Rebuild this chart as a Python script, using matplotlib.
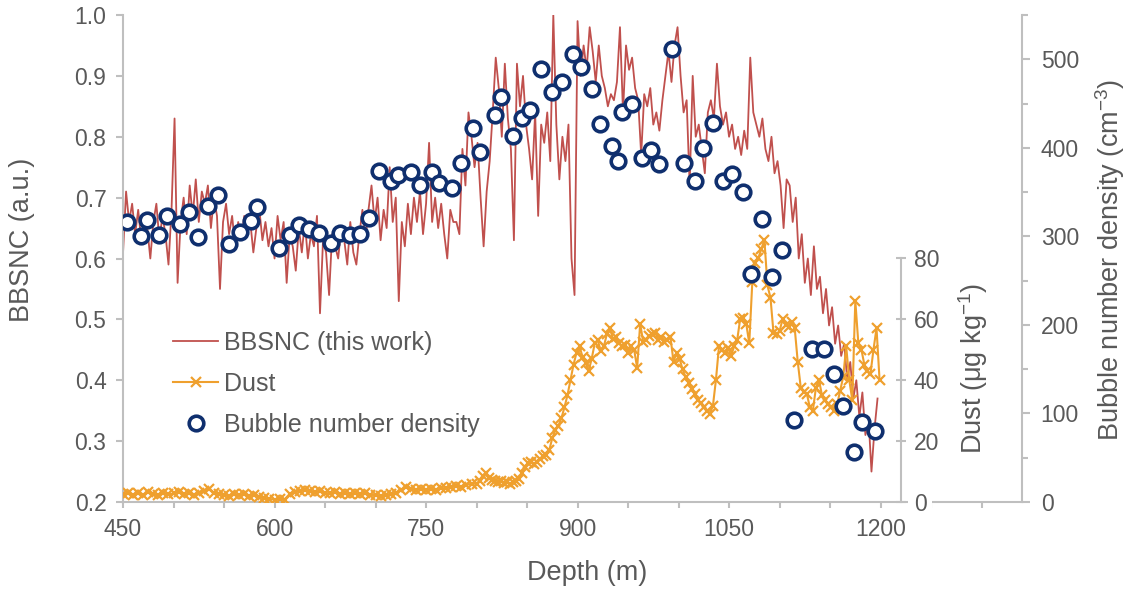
import matplotlib
matplotlib.use("Agg")
import matplotlib.pyplot as plt
import numpy as np
from matplotlib.ticker import MultipleLocator, FormatStrFormatter

plt.rcParams["font.family"] = ["Liberation Sans", "DejaVu Sans"]
plt.rcParams["mathtext.fontset"] = "custom"
plt.rcParams["mathtext.rm"] = "Liberation Sans"
plt.rcParams["mathtext.it"] = "Liberation Sans:italic"

bbsnc_depth = np.arange(450, 1200, 3)
bbsnc = [
    0.61, 0.71, 0.66, 0.69, 0.64, 0.68, 0.63, 0.67, 0.65, 0.60,
    0.66, 0.69, 0.63, 0.67, 0.64, 0.59, 0.68, 0.83, 0.56, 0.66,
    0.70, 0.64, 0.72, 0.67, 0.73, 0.66, 0.71, 0.69, 0.72, 0.65,
    0.70, 0.67, 0.55, 0.66, 0.69, 0.64, 0.67, 0.62, 0.66, 0.63,
    0.67, 0.64, 0.66, 0.61, 0.65, 0.68, 0.63, 0.66, 0.62, 0.65,
    0.60, 0.67, 0.63, 0.66, 0.56, 0.64, 0.62, 0.58, 0.65, 0.61,
    0.66, 0.60, 0.64, 0.62, 0.67, 0.51, 0.63, 0.61, 0.54, 0.64,
    0.62, 0.60, 0.65, 0.63, 0.59, 0.66, 0.61, 0.59, 0.64, 0.68,
    0.63, 0.68, 0.72, 0.66, 0.70, 0.63, 0.68, 0.65, 0.75, 0.66,
    0.70, 0.53, 0.66, 0.62, 0.69, 0.64, 0.70, 0.66, 0.71, 0.64,
    0.69, 0.79, 0.66, 0.70, 0.65, 0.69, 0.64, 0.60, 0.68, 0.66,
    0.66, 0.64, 0.78, 0.72, 0.84, 0.80, 0.75, 0.79, 0.70, 0.62,
    0.71, 0.76, 0.84, 0.93, 0.88, 0.80, 0.92, 0.83, 0.78, 0.63,
    0.92, 0.85, 0.90, 0.82, 0.78, 0.73, 0.84, 0.67, 0.82, 0.79,
    0.84, 0.76, 1.00, 0.82, 0.73, 0.80, 0.76, 0.82, 0.60, 0.54,
    0.99, 0.90, 0.95, 0.91, 0.98, 0.94, 0.89, 0.95, 0.90, 0.88,
    0.85, 0.87, 0.86, 0.89, 0.98, 0.84, 0.95, 0.91, 0.93, 0.88,
    0.86, 0.77, 0.87, 0.85, 0.88, 0.82, 0.84, 0.81, 0.86, 0.90,
    0.94, 0.89, 0.95, 0.98, 0.90, 0.84, 0.86, 0.72, 0.90, 0.80,
    0.82, 0.78, 0.74, 0.84, 0.86, 0.83, 0.92, 0.85, 0.82, 0.84,
    0.80, 0.82, 0.78, 0.80, 0.77, 0.81, 0.78, 0.93, 0.84, 0.82,
    0.80, 0.83, 0.78, 0.76, 0.80, 0.74, 0.76, 0.72, 0.65, 0.73,
    0.72, 0.66, 0.70, 0.60, 0.64, 0.56, 0.60, 0.54, 0.62, 0.55,
    0.57, 0.51, 0.55, 0.49, 0.52, 0.46, 0.49, 0.44, 0.46, 0.40,
    0.43, 0.37, 0.40, 0.34, 0.38, 0.31, 0.34, 0.25, 0.32, 0.37,
]

# Dust (ug/kg): every 5 m down to 795 m, then every 3 m
dust_depth = np.concatenate([np.arange(450, 800, 5), np.arange(800, 1200, 3)])
dust = [
    2.5, 3.0, 2.2, 2.8, 2.4, 3.2, 2.6, 2.2, 3.0, 2.5, 2.8, 3.4, 2.6, 2.9,
    2.4, 3.0, 3.5, 4.2, 3.0, 2.6, 2.4, 2.0, 2.5, 2.2, 2.6, 2.0, 2.4, 1.8,
    1.2, 1.0, 0.8, 1.1, 0.8, 2.6, 3.4,
    3.6, 4.0, 3.5, 3.2, 3.6, 3.0, 2.8, 3.2, 2.6, 3.0, 2.5, 2.8, 2.6, 3.0, 2.4, 2.2,
    2.0, 2.2, 2.5, 3.0, 3.8, 4.8, 4.2, 4.0, 4.4, 4.0, 4.2, 3.8, 4.5, 4.6,
    5.0, 5.4, 4.8, 5.6, 6.0,
    6.0, 7.0, 8.5, 9.5, 8.0, 7.2, 6.8, 6.5, 6.8, 6.2,
    6.6, 6.0, 6.5, 6.8, 7.5, 9.5, 11.5, 12.8, 13.2, 12.5,
    13.0, 14.0, 15.0, 15.5, 17.0, 21.0, 23.5, 25.0, 27.5, 31.0,
    35.0, 40.0, 45.0, 49.0, 51.0, 47.5, 45.5, 43.0, 47.0, 52.0,
    53.0, 49.5, 51.0, 55.0, 57.0, 53.5, 54.0, 52.0, 51.0, 51.5,
    49.0, 51.0, 50.0, 44.0, 58.5, 52.5, 53.0, 54.5, 55.0, 55.5,
    53.0, 54.0, 52.5, 53.0, 54.0, 46.0, 49.0, 47.0, 43.5, 41.0,
    39.0, 37.0, 35.5, 33.5, 32.5, 31.0, 30.0, 29.0, 31.5, 40.0,
    51.0, 50.0, 49.0, 50.5, 48.0, 51.0, 53.0, 60.0, 60.5, 58.5,
    52.0, 72.0, 78.5, 80.0, 83.0, 86.0, 71.0, 67.0, 55.5, 55.0,
    56.0, 60.0, 58.0, 57.5, 59.0, 57.0, 46.0, 37.5, 36.0, 35.5,
    31.0, 30.0, 37.5, 40.0, 35.0, 33.5, 32.0, 31.0, 30.0, 32.0,
    36.5, 41.0, 51.0, 40.0, 33.5, 66.0, 52.0, 50.0, 45.0, 43.0,
    42.0, 50.0, 57.0, 40.0,
]

# Bubble number density (cm-3)
bubble_depth = [
    454, 468, 474, 486, 494, 506, 515, 524, 534, 544, 555, 566, 577, 583,
    604, 615, 624, 634, 644, 656, 665, 675, 685, 694, 703, 715, 722, 735,
    744, 756, 763, 776, 785, 796, 803, 818, 824, 836, 845, 853, 864, 875,
    885, 895, 903, 914, 922, 934, 940, 944, 954, 964, 973, 981, 994, 1005,
    1016, 1024, 1034, 1044, 1053, 1064, 1072, 1083, 1093, 1102, 1114, 1132,
    1144, 1154, 1163, 1174, 1182, 1194,
]
bubble_density = [
    316, 300, 318, 302, 323, 314, 327, 299, 334, 347, 291, 305, 317, 333,
    287, 302, 313, 308, 304, 292, 304, 302, 303, 321, 374, 362, 369, 373,
    358, 373, 360, 355, 383, 422, 395, 437, 457, 413, 434, 443, 489, 463,
    474, 506, 491, 466, 427, 402, 385, 441, 449, 388, 397, 382, 512, 383,
    362, 400, 428, 362, 370, 350, 257, 320, 254, 285, 93, 173,
    173, 144, 108, 56, 90, 80,
]

RED = "#C0504D"
ORANGE = "#EFA02E"
NAVY = "#0F2F6E"
TXT = "#595959"
SPINE = "#BFBFBF"
TICK_FS = 16.5
LABEL_FS = 19.5

fig = plt.figure(figsize=(11.33, 5.91), dpi=100)
ax = fig.add_axes([0.1086, 0.1506, 0.7934, 0.824])
ax.plot(bbsnc_depth, bbsnc, color=RED, lw=1.3, label="BBSNC (this work)")

ax_d = ax.twinx()
ax_d.plot(dust_depth, dust, color=ORANGE, lw=1.5, marker="x", ms=6.5, mew=1.6,
          label="Dust")

ax_b = ax.twinx()
ax_b.plot(bubble_depth, bubble_density, ls="none", marker="o", ms=10.5,
          mfc="white", mec=NAVY, mew=2.6, label="Bubble number density")

# main axes
ax.set_xlim(450, 1340)
ax.set_ylim(0.2, 1.0)
ax.xaxis.set_major_locator(MultipleLocator(150))
ax.xaxis.set_minor_locator(MultipleLocator(50))
ax.yaxis.set_major_locator(MultipleLocator(0.1))
ax.yaxis.set_major_formatter(FormatStrFormatter("%.1f"))
for s in ["top", "right"]:
    ax.spines[s].set_visible(False)
for s in ["left", "bottom"]:
    ax.spines[s].set_color(SPINE)
    ax.spines[s].set_linewidth(1.5)
ax.tick_params(axis="x", which="both", length=4.5, width=1.5, color=SPINE,
               labelsize=TICK_FS, labelcolor=TXT, pad=7)
ax.tick_params(axis="y", length=5, width=1.5, color=SPINE,
               labelsize=TICK_FS, labelcolor=TXT, pad=7)

# dust axis, sitting inside the plot
ax_d.set_ylim(0, 159.7)
ax_d.set_yticks([0, 20, 40, 60, 80])
for s in ["top", "bottom", "left"]:
    ax_d.spines[s].set_visible(False)
ax_d.spines["right"].set_position(("axes", 0.8654))
ax_d.spines["right"].set_bounds(0, 80)
ax_d.spines["right"].set_color(SPINE)
ax_d.spines["right"].set_linewidth(1.5)
ax_d.tick_params(axis="y", direction="inout", length=6.5, width=1.5,
                 color=SPINE, labelsize=TICK_FS, labelcolor=TXT, pad=6)
for lbl in ax_d.get_yticklabels():
    lbl.set_bbox(dict(facecolor="white", edgecolor="none", pad=4))

# bubble axis
ax_b.set_ylim(0, 550)
ax_b.yaxis.set_major_locator(MultipleLocator(100))
ax_b.yaxis.set_minor_locator(MultipleLocator(50))
for s in ["top", "bottom", "left"]:
    ax_b.spines[s].set_visible(False)
ax_b.spines["right"].set_color(SPINE)
ax_b.spines["right"].set_linewidth(1.5)
ax_b.tick_params(axis="y", which="major", length=5.5, width=1.5, color=SPINE,
                 labelsize=TICK_FS, labelcolor=TXT, pad=8)
ax_b.tick_params(axis="y", which="minor", length=4, width=1.5, color=SPINE)

# axis titles
ax.text(0.516, -0.146, "Depth (m)", transform=ax.transAxes, ha="center",
        va="center", fontsize=LABEL_FS, color=TXT)
ax.text(-0.112, 0.538, "BBSNC (a.u.)", transform=ax.transAxes, rotation=90,
        ha="center", va="center", fontsize=LABEL_FS, color=TXT)
ax.text(0.9455, 0.275, r"Dust (μg kg$^{-1}$)", transform=ax.transAxes,
        rotation=90, ha="center", va="center", fontsize=LABEL_FS, color=TXT)
ax.text(1.098, 0.497, r"Bubble number density (cm$^{-3}$)",
        transform=ax.transAxes, rotation=90, ha="center", va="center",
        fontsize=LABEL_FS, color=TXT)

handles = ax.get_lines() + ax_d.get_lines() + ax_b.get_lines()
leg = ax_b.legend(handles=handles, loc="upper left",
                  bbox_to_anchor=(0.1527, 0.44),
                  bbox_transform=fig.transFigure, frameon=False,
                  fontsize=18, borderpad=0, borderaxespad=0,
                  handlelength=1.8, handletextpad=0.25, labelspacing=0.68)
for t in leg.get_texts():
    t.set_color(TXT)

fig.savefig("out.png", dpi=100)
